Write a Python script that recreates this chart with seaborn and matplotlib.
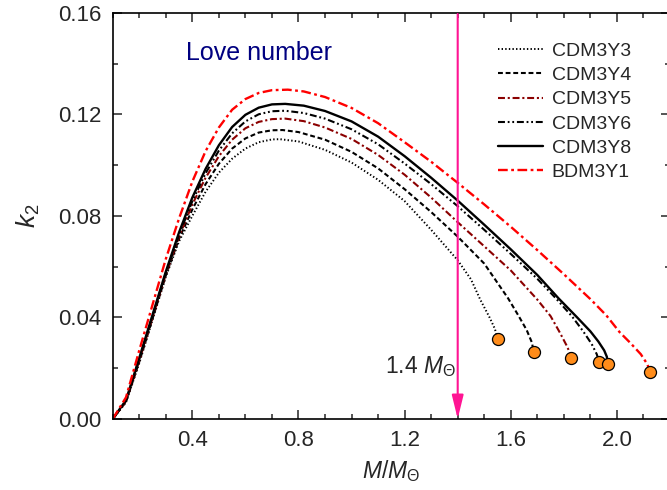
import matplotlib
matplotlib.use("Agg")
import matplotlib.pyplot as plt
from matplotlib.ticker import MultipleLocator, FormatStrFormatter
import seaborn as sns
import pandas as pd

# ---------------- data ----------------
series_names = ["CDM3Y3", "CDM3Y4", "CDM3Y5", "CDM3Y6", "CDM3Y8", "BDM3Y1"]

mass_cdm3y3 = [0.10, 0.15, 0.20, 0.25, 0.30, 0.35, 0.40, 0.45, 0.50, 0.55, 0.60, 0.65, 0.70, 0.73,
               0.80, 0.90, 1.00, 1.10, 1.20, 1.30, 1.40, 1.45, 1.485, 1.52, 1.54, 1.551]
k2_cdm3y3 = [0.0, 0.0065, 0.022, 0.039, 0.056, 0.070, 0.080, 0.0895, 0.097, 0.1025, 0.1065, 0.1090, 0.1101, 0.1102,
             0.1093, 0.1060, 0.1010, 0.0942, 0.0858, 0.0745, 0.0625, 0.0550, 0.0470, 0.0400, 0.0355, 0.0315]

mass_cdm3y4 = [0.10, 0.15, 0.20, 0.25, 0.30, 0.35, 0.40, 0.45, 0.50, 0.55, 0.60, 0.65, 0.70, 0.74,
               0.80, 0.90, 1.00, 1.10, 1.20, 1.30, 1.40, 1.50, 1.59, 1.63, 1.66, 1.68, 1.686]
k2_cdm3y4 = [0.0, 0.0068, 0.0225, 0.0395, 0.0565, 0.0710, 0.0825, 0.0925, 0.1005, 0.1065, 0.1105, 0.1128, 0.1137, 0.1138,
             0.1130, 0.1100, 0.1052, 0.0987, 0.0905, 0.0815, 0.0718, 0.0612, 0.0475, 0.0405, 0.0350, 0.0300, 0.0263]

mass_cdm3y5 = [0.10, 0.15, 0.20, 0.25, 0.30, 0.35, 0.40, 0.45, 0.50, 0.55, 0.60, 0.65, 0.70, 0.75,
               0.82, 0.90, 1.00, 1.10, 1.20, 1.30, 1.40, 1.50, 1.60, 1.70, 1.75, 1.785, 1.81, 1.823, 1.826]
k2_cdm3y5 = [0.0, 0.0070, 0.0230, 0.0400, 0.0570, 0.0718, 0.0845, 0.0950, 0.1035, 0.1100, 0.1145, 0.1170, 0.1181, 0.1183,
             0.1173, 0.1148, 0.1103, 0.1040, 0.0962, 0.0872, 0.0775, 0.0680, 0.0585, 0.0470, 0.0405, 0.0340, 0.0290, 0.0260, 0.0240]

mass_cdm3y6 = [0.10, 0.15, 0.20, 0.25, 0.30, 0.35, 0.40, 0.45, 0.50, 0.55, 0.60, 0.65, 0.70, 0.75,
               0.82, 0.90, 1.00, 1.10, 1.20, 1.30, 1.40, 1.50, 1.60, 1.70, 1.77, 1.83, 1.873, 1.905, 1.924, 1.933]
k2_cdm3y6 = [0.0, 0.0072, 0.0235, 0.0405, 0.0575, 0.0725, 0.0858, 0.0968, 0.1057, 0.1125, 0.1172, 0.1200, 0.1212, 0.1214,
             0.1205, 0.1183, 0.1141, 0.1082, 0.1006, 0.0925, 0.0838, 0.0745, 0.0650, 0.0552, 0.0475, 0.0405, 0.0345, 0.0295, 0.0255, 0.0224]

mass_cdm3y8 = [0.10, 0.15, 0.20, 0.25, 0.30, 0.35, 0.40, 0.45, 0.50, 0.55, 0.60, 0.65, 0.70, 0.75,
               0.82, 0.90, 1.00, 1.10, 1.20, 1.30, 1.40, 1.50, 1.60, 1.70, 1.78, 1.85, 1.90, 1.93, 1.952, 1.962, 1.965]
k2_cdm3y8 = [0.0, 0.0074, 0.0240, 0.0410, 0.0580, 0.0735, 0.0872, 0.0985, 0.1078, 0.1150, 0.1198, 0.1226, 0.1239, 0.1241,
             0.1234, 0.1213, 0.1172, 0.1112, 0.1035, 0.0950, 0.0860, 0.0765, 0.0668, 0.0567, 0.0475, 0.0400, 0.0345, 0.0305, 0.0270, 0.0245, 0.0217]

mass_bdm3y1 = [0.10, 0.15, 0.20, 0.25, 0.30, 0.35, 0.40, 0.45, 0.50, 0.55, 0.60, 0.65, 0.70, 0.76,
               0.82, 0.90, 1.00, 1.10, 1.20, 1.30, 1.40, 1.50, 1.60, 1.70, 1.80, 1.90, 1.96, 2.01, 2.05, 2.09, 2.115, 2.124]
k2_bdm3y1 = [0.0, 0.0085, 0.0270, 0.0450, 0.0630, 0.0790, 0.0935, 0.1055, 0.1148, 0.1218, 0.1260, 0.1284, 0.1295, 0.1297,
             0.1290, 0.1268, 0.1225, 0.1165, 0.1090, 0.1013, 0.0930, 0.0845, 0.0757, 0.0665, 0.0570, 0.0472, 0.0408, 0.0342, 0.0300, 0.0255, 0.0215, 0.0186]

masses = [mass_cdm3y3, mass_cdm3y4, mass_cdm3y5, mass_cdm3y6, mass_cdm3y8, mass_bdm3y1]
k2s = [k2_cdm3y3, k2_cdm3y4, k2_cdm3y5, k2_cdm3y6, k2_cdm3y8, k2_bdm3y1]

arrow_mass = 1.4
x_ticks_major = 0.4
y_ticks_major = 0.04

# ---------------- styling ----------------
sns.set_style("ticks")
plt.rcParams["font.family"] = ["Liberation Sans", "DejaVu Sans"]
plt.rcParams["mathtext.fontset"] = "custom"
plt.rcParams["mathtext.rm"] = "Liberation Sans"
plt.rcParams["mathtext.it"] = "Liberation Sans:italic"
plt.rcParams["lines.scale_dashes"] = False

colors = ["black", "black", "#8B0000", "black", "black", "#FF0000"]
styles = [(0, (1.0, 1.6)),
          (0, (3.5, 2.0)),
          (0, (5.0, 2.0, 1.5, 2.0)),
          (0, (5.0, 2.0, 1.3, 2.0, 1.3, 2.0)),
          "-",
          (0, (7.0, 2.5, 2.0, 2.5))]
widths = [1.4, 1.5, 1.5, 1.5, 1.7, 1.7]

fig = plt.figure(figsize=(6.67, 4.9), dpi=100)
ax = fig.add_axes([0.169, 0.145, 0.8355, 0.829])

for name, m, k, c, ls, lw in zip(series_names, masses, k2s, colors, styles, widths):
    df = pd.DataFrame({"M": m, "k2": k})
    sns.lineplot(data=df, x="M", y="k2", ax=ax, sort=False, estimator=None,
                 color=c, linestyle=ls, linewidth=lw, label=name)

end_df = pd.DataFrame({"M": [m[-1] for m in masses], "k2": [k[-1] for k in k2s]})
sns.scatterplot(data=end_df, x="M", y="k2", ax=ax, color="#FF8C1A", edgecolor="black",
                linewidth=0.9, s=75, zorder=5, legend=False)

# arrow at 1.4 solar masses
ax.annotate("", xy=(arrow_mass, 0.0), xytext=(arrow_mass, 0.1595),
            arrowprops=dict(arrowstyle="-|>,head_width=0.22,head_length=0.9",
                            color="#FF1493", lw=1.5, mutation_scale=16,
                            shrinkA=0, shrinkB=0))
ax.text(1.126, 0.018, r"1.4 $M_{\Theta}$", fontsize=16.5, ha="left", va="baseline")
ax.text(0.376, 0.1414, "Love number", fontsize=18, color="#000080", ha="left", va="baseline")

ax.set_xlim(0.1, 2.2)
ax.set_ylim(0.0, 0.16)
ax.xaxis.set_major_locator(MultipleLocator(x_ticks_major))
ax.xaxis.set_minor_locator(MultipleLocator(0.1))
ax.yaxis.set_major_locator(MultipleLocator(y_ticks_major))
ax.yaxis.set_minor_locator(MultipleLocator(0.02))
ax.xaxis.set_major_formatter(FormatStrFormatter("%.1f"))
ax.yaxis.set_major_formatter(FormatStrFormatter("%.2f"))
ax.tick_params(which="both", direction="in", top=True, right=True, width=1.1, labelsize=16)
ax.tick_params(which="major", length=6.5)
ax.tick_params(which="minor", length=3.5)
ax.tick_params(axis="x", pad=8)
ax.tick_params(axis="y", pad=8)
for sp in ax.spines.values():
    sp.set_linewidth(1.2)
    sp.set_color("black")

ax.set_xlabel(r"$M/M_{\Theta}$", fontsize=16.5, labelpad=5)
ax.set_ylabel(r"$k_{2}$", fontsize=19, labelpad=12)

ax.legend(loc="upper left", bbox_to_anchor=(0.692, 0.927), frameon=False, fontsize=14,
          handlelength=2.3, handletextpad=0.45, labelspacing=0.34, borderpad=0, borderaxespad=0)

fig.savefig("out.png", dpi=100)
